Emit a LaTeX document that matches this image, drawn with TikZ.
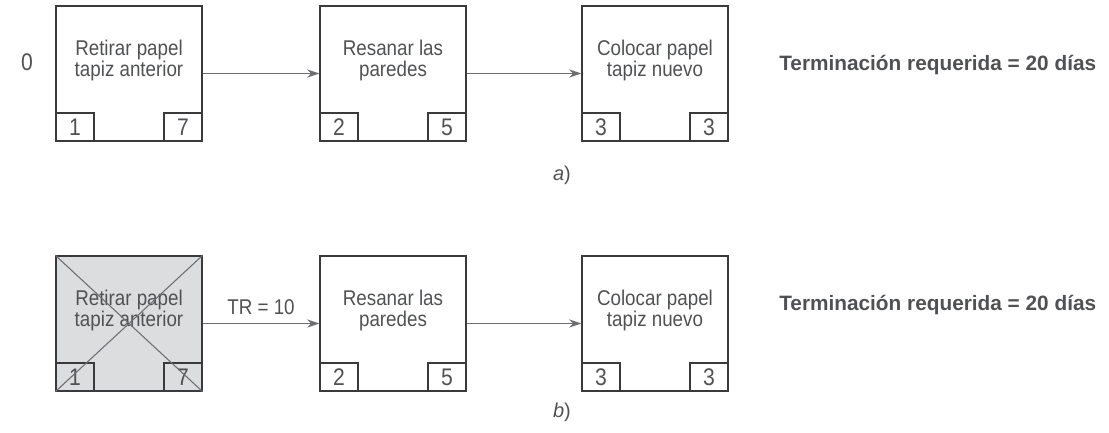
\documentclass[tikz,border=0pt]{standalone}
\usepackage{fontspec}
\setmainfont{Liberation Sans}
\newfontfamily\narrowfont{Liberation Sans}[FakeStretch=0.88]
\usepackage{tikz}
\usetikzlibrary{arrows.meta,positioning}
\definecolor{inkx}{HTML}{3A3A3C}
\definecolor{textx}{HTML}{505153}
\definecolor{linex}{HTML}{6D6E71}
\definecolor{shadex}{HTML}{DCDDDF}
\tikzset{
  task/.style={draw=inkx,line width=1.1pt,minimum width=109.5pt,minimum height=101.25pt,inner sep=0pt},
  lbl/.style={text=textx,font=\narrowfont\fontsize{16}{16}\selectfont,align=center,inner sep=0pt},
  num/.style={draw=inkx,line width=1.1pt,minimum width=28.5pt,minimum height=21pt,inner sep=0pt,text=textx,font=\narrowfont\fontsize{18}{18}\selectfont},
  ar/.style={-{Stealth[length=9pt,width=6pt]},line width=0.8pt,linex},
  req/.style={text=textx,font=\bfseries\fontsize{15.6}{18}\selectfont,anchor=west,inner sep=0pt},
  sub/.style={text=textx,font=\fontsize{15}{16}\selectfont,inner sep=0pt},
  cross/.style={line width=0.8pt,linex}
}

\begin{document}
\begin{tikzpicture}[x=0.75pt,y=-0.75pt]
\useasboundingbox (0,0) rectangle (1109,432);
% a) fila superior
\node[task] (a1) at (129,73.5) {};
\node[task] (a2) at (393,73.5) {};
\node[task] (a3) at (655,73.5) {};
% b) fila inferior
\node[task,fill=shadex] (b1) at (129,323.5) {};
\node[task] (b2) at (393,323.5) {};
\node[task] (b3) at (655,323.5) {};
\foreach \r in {a,b}{
  \node[lbl] at ([yshift=10pt]\r1.center) {Retirar papel\\tapiz anterior};
  \node[lbl] at ([yshift=10pt]\r2.center) {Resanar las\\paredes};
  \node[lbl] at ([yshift=10pt]\r3.center) {Colocar papel\\tapiz nuevo};
  \node[num,anchor=south west] (\r1es) at (\r1.south west) {1};
  \node[num,anchor=south east] (\r1ef) at (\r1.south east) {7};
  \node[num,anchor=south west] (\r2es) at (\r2.south west) {2};
  \node[num,anchor=south east] (\r2ef) at (\r2.south east) {5};
  \node[num,anchor=south west] (\r3es) at (\r3.south west) {3};
  \node[num,anchor=south east] (\r3ef) at (\r3.south east) {3};
  \draw[ar] (\r2) -- (\r3);
}
\draw[ar] (a1) -- (a2);
\draw[ar] (b1) -- node[midway,above=6.4pt,sub,font=\narrowfont\fontsize{16}{16}\selectfont]{TR = 10} (b2);
\draw[cross] (b1.north west) -- (b1.south east) (b1.north east) -- (b1.south west);
\node[sub,font=\narrowfont\fontsize{18}{18}\selectfont] (cero) at (27,62) {0};
\node[req] (reqa) at (779,65) {Terminación requerida = 20 días};
\node[req] (reqb) at (779,305) {Terminación requerida = 20 días};
\node[sub] (capa) at (562,175) {\textit{a})};
\node[sub] (capb) at (562,412) {\textit{b})};
\end{tikzpicture}
\end{document}
